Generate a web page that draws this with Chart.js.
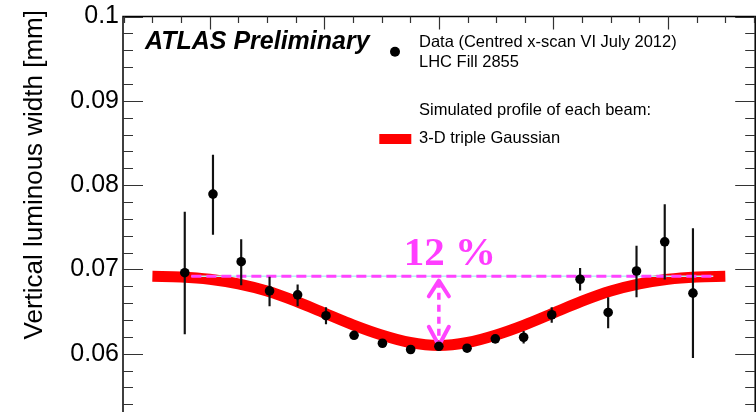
<!DOCTYPE html>
<html lang="en">
<head>
  <title>Vertical luminous width</title>
  <script src="https://cdn.jsdelivr.net/npm/chart.js"></script>
  <style>
    body { margin: 0; background: #fff; }
    .wrap { width: 756px; height: 412px; overflow: hidden; }
    canvas { display: block; }
  </style>
</head>
<body>
<div class="wrap"><canvas id="widthChart" width="760" height="460"></canvas></div>
<script>
  // scan points, separation in units of the top-axis minor ticks
  const separation = [-8.87, -7.885, -6.90, -5.91, -4.93, -3.94, -2.96, -1.97, -0.985, 0,
    0.985, 1.97, 2.96, 3.94, 4.93, 5.91, 6.90, 7.885, 8.87];
  const measuredWidth = [0.06961, 0.07893, 0.07091, 0.06745, 0.06698, 0.06451, 0.06218, 0.06124, 0.06050, 0.06088,
    0.06065, 0.06176, 0.06195, 0.06462, 0.06883, 0.06489, 0.06981, 0.07327, 0.06718];
  const widthLow = [0.06235, 0.07414, 0.06816, 0.06568, 0.06568, 0.06353, 0.06198, 0.06104, 0.06030, 0.06068,
    0.06045, 0.06146, 0.06125, 0.06372, 0.06754, 0.06305, 0.06675, 0.06883, 0.05952];
  const widthHigh = [0.07680, 0.08357, 0.07355, 0.06910, 0.06816, 0.06548, 0.06238, 0.06144, 0.06070, 0.06108,
    0.06085, 0.06206, 0.06265, 0.06548, 0.07013, 0.06666, 0.07276, 0.07768, 0.07485];

  // simulated profile (3-D triple Gaussian)
  const curveSep = [-10, -9, -8, -7, -6, -5, -4, -3, -2, -1, 0, 1, 2, 3, 4, 5, 6, 7, 8, 9, 10];
  const curveWidth = [0.06918, 0.06910, 0.06883, 0.06828, 0.06743, 0.06623, 0.06483, 0.06343, 0.06223, 0.06133, 0.06098,
    0.06133, 0.06223, 0.06343, 0.06483, 0.06623, 0.06743, 0.06828, 0.06883, 0.06910, 0.06918];

  // 12 % annotation
  const refLevel = 0.06919;
  const refSpan = [-8.64, 9.58];
  const arrowTop = 0.06866;
  const arrowBottom = 0.06097;
  const headLen = 0.00185;
  const headHalf = 0.35;

  const yTicksMajor = [0.05, 0.06, 0.07, 0.08, 0.09, 0.1];

  const magenta = '#ff44ff';

  const points = separation.map((s, i) => ({x: s, y: measuredWidth[i]}));
  const errors = separation.map((s, i) => ({x: s, y: [widthLow[i], widthHigh[i]]}));
  const curve = curveSep.map((s, i) => ({x: s, y: curveWidth[i]}));
  const refLine = refSpan.map(s => ({x: s, y: refLevel}));
  const shaft = [{x: 0, y: arrowTop}, {x: 0, y: arrowBottom}];
  const headUp = [{x: -headHalf, y: arrowTop - headLen}, {x: 0, y: arrowTop}, {x: headHalf, y: arrowTop - headLen}];
  const headDown = [{x: -headHalf, y: arrowBottom + headLen * 1.2}, {x: 0, y: arrowBottom}, {x: headHalf, y: arrowBottom + headLen * 1.2}];

  const sans = '"Liberation Sans", Arial, Helvetica, sans-serif';

  const framePlugin = {
    id: 'frame',
    beforeDatasetsDraw(chart) {
      const {ctx, chartArea: a, scales: {x, y}} = chart;
      ctx.save();
      ctx.strokeStyle = '#000';
      ctx.lineWidth = 1.5;
      ctx.beginPath();
      ctx.moveTo(a.left, a.bottom);
      ctx.lineTo(a.left, a.top);
      ctx.lineTo(a.right, a.top);
      ctx.lineTo(a.right, a.bottom);
      ctx.stroke();

      ctx.strokeStyle = '#333';
      ctx.lineWidth = 1.2;
      ctx.beginPath();
      for (let k = 25; k <= 50; k++) {
        const py = Math.round(y.getPixelForValue(k * 0.002)) + 0.5;
        const len = k % 5 === 0 ? 20 : 10;
        ctx.moveTo(a.left, py); ctx.lineTo(a.left + len, py);
        ctx.moveTo(a.right, py); ctx.lineTo(a.right - len, py);
      }
      for (let u = Math.ceil(x.min); u <= x.max; u++) {
        const px = Math.round(x.getPixelForValue(u)) + 0.5;
        const len = u % 4 === 0 ? 13 : 6.5;
        ctx.moveTo(px, a.top); ctx.lineTo(px, a.top + len);
      }
      ctx.stroke();
      ctx.restore();
    },
    afterDraw(chart) {
      const {ctx, scales: {x, y}} = chart;
      ctx.save();
      // y title
      ctx.save();
      ctx.translate(41.5, 10);
      ctx.rotate(-Math.PI / 2);
      ctx.fillStyle = '#000';
      ctx.font = '26px ' + sans;
      ctx.textAlign = 'right';
      ctx.textBaseline = 'alphabetic';
      ctx.fillText('Vertical luminous width [mm]', 0, 0);
      ctx.restore();

      ctx.fillStyle = '#000';
      ctx.textAlign = 'left';
      ctx.textBaseline = 'alphabetic';
      ctx.font = 'italic bold 25px ' + sans;
      ctx.fillText('ATLAS Preliminary', 145, 48.5);

      // legend
      ctx.beginPath();
      ctx.arc(395, 51.7, 5, 0, Math.PI * 2);
      ctx.fill();
      ctx.font = '16.5px ' + sans;
      ctx.fillText('Data (Centred x-scan VI July 2012)', 419, 47.3);
      ctx.fillText('LHC Fill 2855', 419, 66.7);
      ctx.fillText('Simulated profile of each beam:', 419, 115);
      ctx.fillText('3-D triple Gaussian', 419, 142.7);
      ctx.fillStyle = '#ff0000';
      ctx.fillRect(379.3, 134, 32, 10);

      // 12 % label
      ctx.fillStyle = '#ff3dff';
      ctx.font = 'bold 41px "Liberation Serif", "Times New Roman", serif';
      ctx.textAlign = 'center';
      ctx.fillText('12 %', x.getPixelForValue(0) + 11, y.getPixelForValue(refLevel) - 11);
      ctx.restore();
    }
  };

  new Chart(document.getElementById('widthChart'), {
    type: 'scatter',
    data: {
      datasets: [
        {label: 'Data', data: points, showLine: false, pointRadius: 4.8, pointBackgroundColor: '#000',
          pointBorderWidth: 0, order: 0},
        {type: 'bar', label: 'Errors', data: errors, backgroundColor: '#111', barThickness: 1.5, order: 1},
        {label: 'Reference', data: refLine, showLine: true, borderColor: magenta, borderWidth: 3,
          borderDash: [10, 5], pointRadius: 0, order: 2},
        {label: 'ArrowShaft', data: shaft, showLine: true, borderColor: magenta, borderWidth: 3.5,
          borderDash: [7, 5], pointRadius: 0, order: 2},
        {label: 'HeadUp', data: headUp, showLine: true, borderColor: magenta, borderWidth: 4,
          borderCapStyle: 'round', borderJoinStyle: 'round', pointRadius: 0, order: 2},
        {label: 'HeadDown', data: headDown, showLine: true, borderColor: magenta, borderWidth: 4,
          borderCapStyle: 'round', borderJoinStyle: 'round', pointRadius: 0, order: 2},
        {label: 'ReferenceUnder', data: refLine, showLine: true, borderColor: '#b4f2f2', borderWidth: 1.5,
          pointRadius: 0, order: 3},
        {label: '3-D triple Gaussian', data: curve, showLine: true, borderColor: '#ff0000', borderWidth: 11,
          cubicInterpolationMode: 'monotone', borderJoinStyle: 'round', pointRadius: 0, order: 4}
      ]
    },
    options: {
      responsive: false,
      animation: false,
      events: [],
      layout: {padding: {left: 0, top: 14, right: 2.5, bottom: 22}},
      plugins: {legend: {display: false}, tooltip: {enabled: false}},
      scales: {
        x: {type: 'linear', min: -11.026, max: 11.043, offset: false, display: false, grid: {display: false}},
        y: {
          type: 'linear', min: 0.05, max: 0.1,
          grid: {display: false, drawTicks: false, tickLength: 0},
          border: {display: false},
          afterFit(scale) { scale.width = 123; },
          afterBuildTicks(scale) { scale.ticks = yTicksMajor.map(v => ({value: v})); },
          ticks: {
            padding: 4,
            color: '#000',
            font: {family: sans, size: 25, lineHeight: 1},
            callback: v => String(+v.toFixed(3))
          }
        }
      }
    },
    plugins: [framePlugin]
  });
</script>
</body>
</html>
